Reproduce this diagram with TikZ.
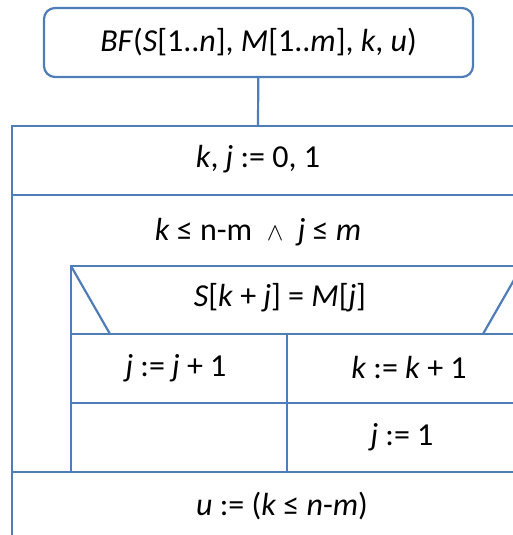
\documentclass[tikz,border=0pt]{standalone}
\usepackage{fontspec}
\setmainfont{Carlito}
\usetikzlibrary{positioning}
\definecolor{FrameBlue}{HTML}{4F7DB8}

\begin{document}
\begin{tikzpicture}[x=1pt,y=-1pt,
    frame/.style={draw=FrameBlue,line width=2.2pt},
    head/.style={frame,rounded corners=11pt,minimum width=429pt,minimum height=69pt},
    stmt/.style={font=\fontsize{32}{38}\selectfont,inner sep=0pt}
  ]
  \clip (0,0) rectangle (513,535);
  \node[head,stmt] (proc) at (258.5,42.5)
    {\textit{BF}(\textit{S}[1..\textit{n}], \textit{M}[1..\textit{m}], \textit{k}, \textit{u})};
  \coordinate (entry) at (258,126);
  \draw[frame] (proc) -- (entry);

  % outer block
  \draw[frame] (540,126) -- (entry) -- (12,126) -- (12,545);
  \draw[frame] (12,195) -- (540,195);
  \draw[frame] (12,472) -- (540,472);
  % loop body
  \draw[frame] (71,472) -- (71,266) -- (540,266);
  \draw[frame] (71,334) -- (540,334);
  \draw[frame] (71,266) -- (110,334);
  \draw[frame] (522,266) -- (483,334);
  \draw[frame] (287,334) -- (287,472);
  \draw[frame] (71,403) -- (540,403);

  \node[stmt] (init) at (258,159) {\textit{k}, \textit{j} := 0, 1};
  \node[stmt] (cond) at (258,232) {\textit{k} ≤ n-m\ \ {\fontsize{26}{30}\selectfont$\wedge$}\ \ \textit{j} ≤ \textit{m}};
  \node[stmt] (test) at (280,298) {\textit{S}[\textit{k} + \textit{j}] = \textit{M}[\textit{j}]};
  \node[stmt] (incj) at (176,368) {\textit{j} := \textit{j} + 1};
  \node[stmt] (inck) at (409,368) {\textit{k} := \textit{k} + 1};
  \node[stmt] (resetj) at (402,437) {\textit{j} := 1};
  \node[stmt] (result) at (282,506) {\textit{u} := (\textit{k} ≤ \textit{n}-\textit{m})};
\end{tikzpicture}
\end{document}
